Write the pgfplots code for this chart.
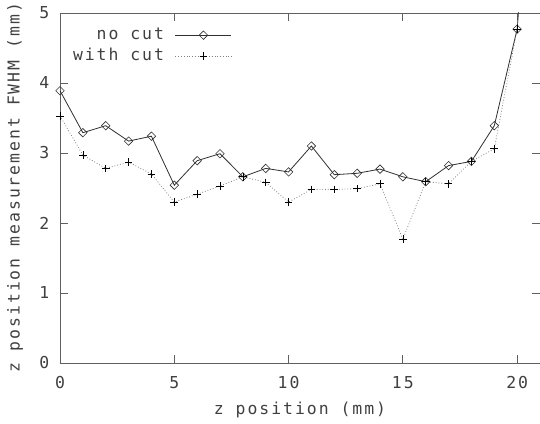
\documentclass[border=0pt]{standalone}
\usepackage{fontspec}
\setmainfont{DejaVu Sans Mono}[LetterSpace=12]
\usepackage{pgfplots}
\pgfplotsset{compat=1.18}
\definecolor{txt}{HTML}{404040}
\definecolor{ax}{HTML}{606060}
\definecolor{nocut}{HTML}{303030}
\definecolor{wcut}{HTML}{808080}
\begin{document}
\fontsize{16.5}{19}\selectfont
\begin{tikzpicture}
\useasboundingbox (-60bp,-61bp) rectangle (480bp,363bp);
\begin{axis}[
  at={(0,0)}, anchor=south west,
  scale only axis, width=480bp, height=350bp,
  xmin=0, xmax=21, ymin=0, ymax=5,
  xtick={0,5,10,15,20}, ytick={0,1,2,3,4,5},
  tick align=inside, major tick length=8bp,
  axis line style={ax, line width=0.9bp},
  every tick/.style={ax, line width=0.9bp},
  /pgf/number format/assume math mode=true,
  tick label style={font=\fontsize{16.5}{19}\selectfont, text=txt},
  yticklabel style={xshift=-5bp},
  xticklabel style={yshift=-8bp},
  label style={font=\fontsize{16.5}{19}\selectfont, text=txt},
  xlabel={z position (mm)},
  xlabel style={at={(axis description cs:0.5,-0.1343)}, anchor=center},
  ylabel style={at={(axis description cs:-0.09375,0.5)}, anchor=center},
  ylabel={z position measurement FWHM (mm)},
  legend style={draw=none, fill=none, at={(axis description cs:0.3646,0.9686)}, anchor=north east,
    font=\fontsize{16.5}{19}\selectfont, text=txt,
    nodes={inner sep=1bp, text height=12bp, text depth=4bp}, row sep=3bp, column sep=10bp},
  legend cell align=right,
  legend plot pos=right,
  legend image code/.code={\draw[mark repeat=2,mark phase=2,#1] plot coordinates {(0bp,0bp) (28bp,0bp) (56bp,0bp)};},
]
\addplot[nocut, line width=0.8bp, mark=square, mark size=3bp, mark options={solid, rotate=45, fill=white, draw=nocut, line width=0.6bp}]
coordinates {
(0,3.89) (1,3.29) (2,3.39) (3,3.17) (4,3.24) (5,2.54) (6,2.89) (7,2.99) (8,2.66) (9,2.78)
(10,2.73) (11,3.10) (12,2.69) (13,2.71) (14,2.77) (15,2.66) (16,2.59) (17,2.82) (18,2.88) (19,3.39) (20,4.77) (21,9.0)
};
\addlegendentry{no cut}
\addplot[wcut, line width=0.8bp, dotted, mark=+, mark size=3.8bp, mark options={solid, draw=black, line width=0.7bp}]
coordinates {
(0,3.53) (1,2.97) (2,2.78) (3,2.87) (4,2.70) (5,2.30) (6,2.41) (7,2.53) (8,2.66) (9,2.58)
(10,2.30) (11,2.48) (12,2.48) (13,2.49) (14,2.56) (15,1.77) (16,2.59) (17,2.56) (18,2.88) (19,3.06) (20,4.77) (21,9.0)
};
\addlegendentry{with cut}
\end{axis}
\end{tikzpicture}
\end{document}
